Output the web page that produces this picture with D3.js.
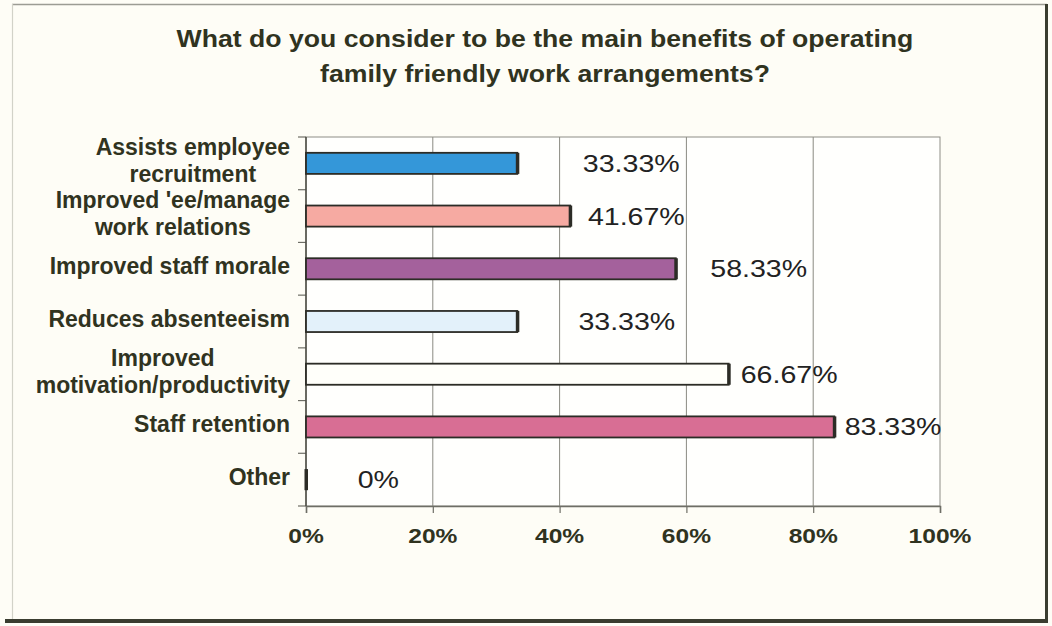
<!DOCTYPE html>
<html>
<head>
<meta charset="utf-8">
<script src="https://cdn.jsdelivr.net/npm/d3@7"></script>
<style>
  html, body { margin: 0; padding: 0; background: #fefdf6; }
  svg { display: block; }
</style>
</head>
<body>
<svg id="chart" width="1052" height="626"></svg>
<script>
// ---- data ----
const titleLines = ["What do you consider to be the main benefits of operating",
                    "family friendly work arrangements?"];
const categories = ["Assists employee\nrecruitment",
                    "Improved 'ee/manage\nwork relations",
                    "Improved staff morale",
                    "Reduces absenteeism",
                    "Improved\nmotivation/productivity",
                    "Staff retention",
                    "Other"];
const values = [33.33, 41.67, 58.33, 33.33, 66.67, 83.33, 0];
const valueLabels = ["33.33%", "41.67%", "58.33%", "33.33%", "66.67%", "83.33%", "0%"];
// where each value label sits along the value axis (in % units, label centre)
const labelAnchors = [51.3, 52.1, 71.4, 50.6, 76.2, 92.6, 11.4];
const barColors = ["#3497d9", "#f6aaa2", "#a4619c", "#e3f1fa", "#fffffa", "#d86e94", "#3a3a2e"];
const xTicks = [0, 20, 40, 60, 80, 100];

// ---- layout ----
const svg = d3.select("#chart");
const textCol = "#30331f";
const font = "'Liberation Sans', Arial, Helvetica, sans-serif";

const x = d3.scaleLinear().domain([0, 100]).range([306, 940]);
const y = d3.scaleBand().domain(categories).range([137, 506]).paddingInner(0.6).paddingOuter(0.3);

function stretchedText(g, tx, ty, str, opts) {
  const sx = opts.sx || 1;
  return g.append("text")
    .attr("transform", `translate(${tx},${ty}) scale(${sx},1)`)
    .attr("text-anchor", opts.anchor || "middle")
    .attr("font-family", font)
    .attr("font-size", opts.size)
    .attr("font-weight", opts.weight || "normal")
    .attr("fill", opts.fill || textCol)
    .attr("letter-spacing", opts.ls || 0)
    .text(str);
}

// background
svg.append("rect").attr("width", 1052).attr("height", 626).attr("fill", "#fefdf6");

// frame
svg.append("line").attr("x1", 12).attr("x2", 1047).attr("y1", 4.5).attr("y2", 4.5)
  .attr("stroke", "#9c9c94").attr("stroke-width", 1.5);
svg.append("line").attr("x1", 12.5).attr("x2", 12.5).attr("y1", 4).attr("y2", 620)
  .attr("stroke", "#d2d2c8").attr("stroke-width", 1.2);
svg.append("line").attr("x1", 1046.5).attr("x2", 1046.5).attr("y1", 4).attr("y2", 623)
  .attr("stroke", "#3a3d30").attr("stroke-width", 3);
svg.append("line").attr("x1", 5).attr("x2", 1048).attr("y1", 621).attr("y2", 621)
  .attr("stroke", "#3a3d30").attr("stroke-width", 4);

// title
titleLines.forEach((t, i) => {
  stretchedText(svg, 545, 47 + i * 34.5, t, {size: 24, weight: "bold", sx: 1.11});
});

// plot area
const plot = svg.append("g");
plot.append("rect").attr("x", x(0)).attr("y", 137).attr("width", x(100) - x(0)).attr("height", 506 - 137)
  .attr("fill", "#fffffd").attr("stroke", "#8e8e86").attr("stroke-width", 1);

// gridlines
plot.selectAll("line.grid").data(xTicks.filter(d => d > 0 && d < 100)).enter().append("line")
  .attr("class", "grid")
  .attr("x1", d => x(d)).attr("x2", d => x(d)).attr("y1", 137).attr("y2", 506)
  .attr("stroke", "#8a8a82").attr("stroke-width", 1);

// bottom axis
const xAxis = d3.axisBottom(x).tickValues(xTicks).tickSize(7).tickFormat("");
const gx = plot.append("g").attr("transform", "translate(0,506)").call(xAxis);
gx.select(".domain").attr("stroke", "#6e6e66").attr("stroke-width", 1.5);
gx.selectAll(".tick line").attr("stroke", "#6e6e66").attr("stroke-width", 1.2);
xTicks.forEach(t => {
  stretchedText(svg, x(t), 543, t + "%", {size: 21, weight: "bold", sx: 1.17});
});

// left axis with ticks at band boundaries
const bounds = d3.range(categories.length + 1).map(i => 137 + i * y.step());
plot.selectAll("line.ytick").data(bounds).enter().append("line")
  .attr("x1", x(0) - 8).attr("x2", x(0)).attr("y1", d => d).attr("y2", d => d)
  .attr("stroke", "#6e6e66").attr("stroke-width", 1.2);
plot.append("line").attr("x1", x(0)).attr("x2", x(0)).attr("y1", 137).attr("y2", 506)
  .attr("stroke", "#4a4a42").attr("stroke-width", 1.5);

// bars
const bars = plot.selectAll("g.bar").data(categories).enter().append("g").attr("class", "bar");
bars.append("rect")
  .attr("x", x(0))
  .attr("y", d => y(d))
  .attr("width", (d, i) => x(values[i]) - x(0))
  .attr("height", y.bandwidth())
  .attr("fill", (d, i) => barColors[i])
  .attr("stroke", "#2c2c26").attr("stroke-width", 1.8);
bars.append("rect")
  .attr("x", (d, i) => x(values[i]) - 1.5)
  .attr("y", d => y(d))
  .attr("width", 3.5)
  .attr("height", y.bandwidth())
  .attr("fill", "#2c2c26");

// value labels
categories.forEach((c, i) => {
  stretchedText(svg, x(labelAnchors[i]), y(c) + y.bandwidth() / 2 + 8.5, valueLabels[i],
    {size: 24, fill: "#222", sx: 1.19});
});

// category labels (right aligned block, lines centred inside)
const labelRight = 290;
categories.forEach((c, i) => {
  const lines = c.split("\n");
  const cy = y(c) + y.bandwidth() / 2 - 2;
  const lh = 27;
  const nodes = lines.map((ln, j) => {
    const yy = cy + (j - (lines.length - 1) / 2) * lh + 7.5;
    return stretchedText(svg, 0, yy, ln, {size: 23, weight: "bold", anchor: "middle"});
  });
  const widths = nodes.map(n => n.node().getComputedTextLength());
  const maxW = d3.max(widths);
  const cx = labelRight - maxW / 2;
  nodes.forEach((n, j) => {
    const yy = cy + (j - (lines.length - 1) / 2) * lh + 7.5;
    n.attr("transform", `translate(${cx},${yy})`);
  });
});
</script>
</body>
</html>
